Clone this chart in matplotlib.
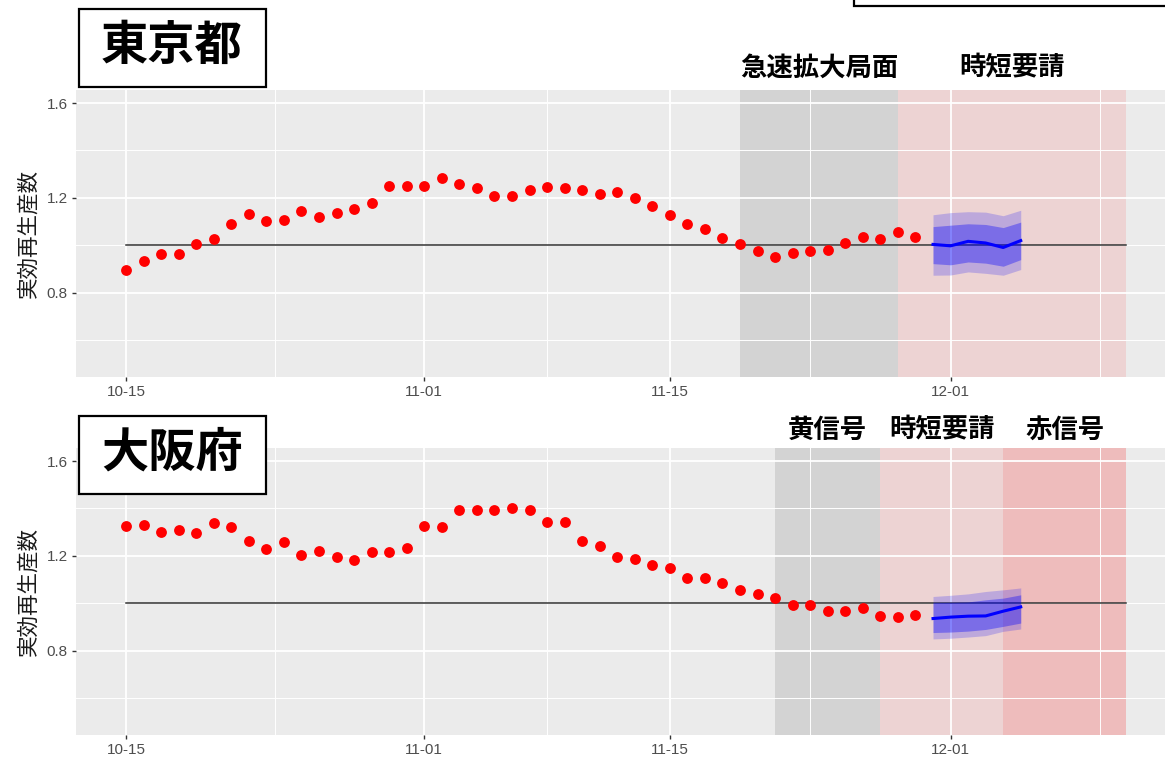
import numpy as np
import pandas as pd
import matplotlib
matplotlib.use("Agg")
import matplotlib.pyplot as plt
import matplotlib.dates as mdates
import matplotlib.transforms as mtransforms
from matplotlib.patches import Rectangle

plt.rcParams["font.family"] = ["Noto Sans CJK JP", "DejaVu Sans"]

# ---- données ----
OBS_START = "2020-10-15"
FC_START = "2020-11-30"
LINE_END = "2020-12-11"

tokyo_rt = [0.895, 0.934, 0.963, 0.963, 1.004, 1.027, 1.091, 1.132, 1.102, 1.108,
            1.143, 1.119, 1.137, 1.154, 1.179, 1.252, 1.252, 1.252, 1.282, 1.260,
            1.241, 1.207, 1.207, 1.235, 1.247, 1.241, 1.235, 1.218, 1.224, 1.200,
            1.164, 1.126, 1.091, 1.068, 1.032, 1.004, 0.976, 0.951, 0.968, 0.976,
            0.981, 1.010, 1.034, 1.028, 1.055, 1.034]
tokyo_med = [1.004, 0.998, 1.017, 1.010, 0.991, 1.020]
tokyo_in_lo = [0.923, 0.918, 0.930, 0.925, 0.912, 0.940]
tokyo_in_hi = [1.079, 1.085, 1.091, 1.088, 1.075, 1.098]
tokyo_out_lo = [0.874, 0.875, 0.888, 0.882, 0.874, 0.898]
tokyo_out_hi = [1.129, 1.138, 1.142, 1.140, 1.125, 1.148]

osaka_rt = [1.326, 1.331, 1.302, 1.308, 1.296, 1.337, 1.320, 1.263, 1.228, 1.257,
            1.205, 1.222, 1.194, 1.183, 1.216, 1.216, 1.233, 1.326, 1.320, 1.394,
            1.394, 1.394, 1.400, 1.394, 1.342, 1.342, 1.263, 1.240, 1.194, 1.188,
            1.160, 1.148, 1.108, 1.108, 1.085, 1.057, 1.040, 1.022, 0.994, 0.994,
            0.966, 0.966, 0.982, 0.947, 0.942, 0.953]
osaka_med = [0.936, 0.942, 0.946, 0.947, 0.967, 0.985]
osaka_in_lo = [0.877, 0.879, 0.883, 0.890, 0.903, 0.917]
osaka_in_hi = [1.003, 1.004, 1.006, 1.015, 1.022, 1.036]
osaka_out_lo = [0.850, 0.853, 0.858, 0.864, 0.882, 0.892]
osaka_out_hi = [1.029, 1.034, 1.040, 1.050, 1.057, 1.065]

# périodes : (début, fin, couleur, alpha, libellé)
tokyo_periods = [("2020-11-19", "2020-11-28", "black", 0.10, "急速拡大局面"),
                 ("2020-11-28", "2020-12-11", "red", 0.10, "時短要請")]
osaka_periods = [("2020-11-21", "2020-11-27", "black", 0.10, "黄信号"),
                 ("2020-11-27", "2020-12-04", "red", 0.10, "時短要請"),
                 ("2020-12-04", "2020-12-11", "red", 0.20, "赤信号")]

major_ticks = ["2020-10-15", "2020-11-01", "2020-11-15", "2020-12-01"]

W, H = 1165, 761


def fx(px):
    return px / W


def fy(py):
    return 1 - py / H


def d(s):
    return mdates.date2num(pd.Timestamp(s))


def panel(fig, top_px, name, rt, med, in_lo, in_hi, out_lo, out_hi, periods,
          label_y_px, box_top_px):
    x0, x1 = d(OBS_START), d(LINE_END)
    span = x1 - x0
    lims = (x0 - 0.05 * span, x1 + 0.05 * span)
    ax = fig.add_axes([fx(76), fy(top_px + 287), fx(1100), 287 / H])
    ax.set_facecolor("#EBEBEB")
    for s in ax.spines.values():
        s.set_visible(False)

    # grille façon ggplot : mineures au milieu des majeures
    majors = [d(t) for t in major_ticks]
    step = majors[1] - majors[0]
    ext = [majors[0] - step] + majors + [majors[-1] + step]
    minors = [(a + b) / 2 for a, b in zip(ext[:-1], ext[1:])]
    minors = [m for m in minors if lims[0] <= m <= lims[1]]
    ax.set_xticks(majors)
    ax.set_xticks(minors, minor=True)
    ax.xaxis.set_major_formatter(mdates.DateFormatter("%m-%d"))
    ax.set_yticks([0.8, 1.2, 1.6])
    ax.set_yticks([0.6, 1.0, 1.4], minor=True)
    ax.set_xlim(*lims)
    ax.set_ylim(0.445, 1.655)
    ax.grid(True, which="major", color="white", lw=1.3)
    ax.grid(True, which="minor", color="white", lw=0.7)
    ax.set_axisbelow(True)
    ax.tick_params(which="major", length=3, width=1, color="#333333",
                   labelcolor="#4D4D4D", labelsize=11, pad=3)
    ax.tick_params(which="minor", length=0)
    for lab in ax.get_xticklabels() + ax.get_yticklabels():
        lab.set_family(["Liberation Sans", "DejaVu Sans"])

    trans = mtransforms.blended_transform_factory(ax.transData, fig.transFigure)
    for a, b, c, al, lab in periods:
        ax.axvspan(d(a), d(b), color=c, alpha=al, lw=0, zorder=0.5)
        ax.text((d(a) + d(b)) / 2, fy(label_y_px), lab, transform=trans,
                ha="center", va="center", fontsize=19, fontweight="bold")

    ax.plot([x0, x1], [1, 1], color="#333333", lw=1.1, zorder=2)
    obs_x = mdates.date2num(pd.date_range(OBS_START, periods=len(rt)))
    ax.plot(obs_x, rt, "o", color="red", ms=7.8, mew=0, zorder=3)

    fc_x = mdates.date2num(pd.date_range(FC_START, periods=len(med)))
    ax.fill_between(fc_x, out_lo, out_hi, color="blue", alpha=0.2, lw=0, zorder=2.5)
    ax.fill_between(fc_x, in_lo, in_hi, color="blue", alpha=0.35, lw=0, zorder=2.6)
    ax.plot(fc_x, med, color="blue", lw=2.2, zorder=2.7)
    ax.set_xlim(*lims)

    fig.text(fx(28), fy(top_px + 143), "実効再生産数", rotation=90,
             ha="center", va="center", fontsize=15.5, color="#1a1a1a")

    fig.add_artist(Rectangle((fx(79), fy(box_top_px + 78)), fx(187), 78 / H,
                             transform=fig.transFigure, facecolor="white",
                             edgecolor="black", lw=1.6))
    fig.text(fx(172), fy(box_top_px + 37), name, ha="center", va="center",
             fontsize=34, fontweight="bold")
    return ax


fig = plt.figure(figsize=(W / 100, H / 100), dpi=100)
panel(fig, 90, "東京都", tokyo_rt, tokyo_med, tokyo_in_lo, tokyo_in_hi,
      tokyo_out_lo, tokyo_out_hi, tokyo_periods, 68, 9)
panel(fig, 448, "大阪府", osaka_rt, osaka_med, osaka_in_lo, osaka_in_hi,
      osaka_out_lo, osaka_out_hi, osaka_periods, 430, 416)

# cadre coupé en haut à droite
fig.add_artist(Rectangle((fx(854), fy(6)), fx(400), 0.1, transform=fig.transFigure,
                         facecolor="white", edgecolor="black", lw=1.6,
                         clip_on=False))

fig.savefig("out.png", dpi=100)
